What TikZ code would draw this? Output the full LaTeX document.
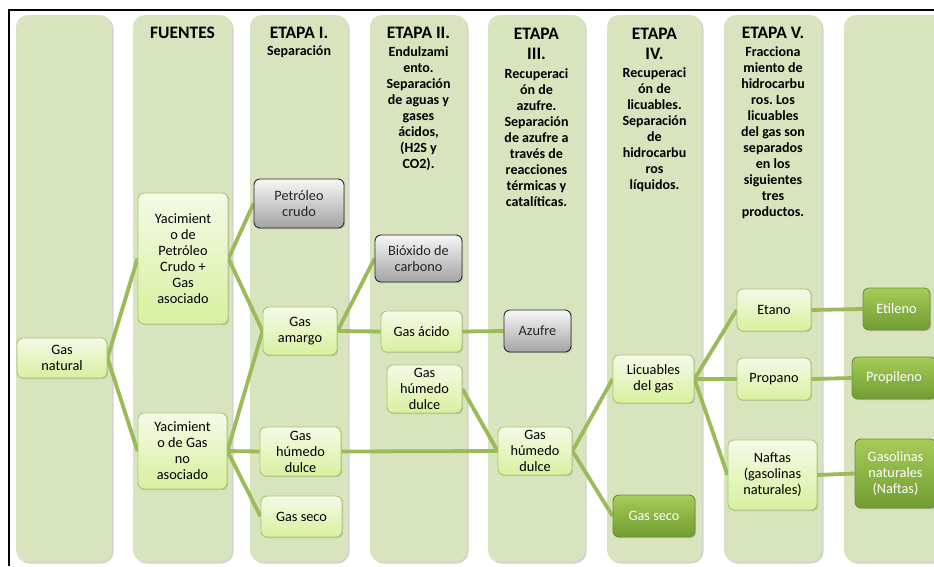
\documentclass[tikz,border=0pt]{standalone}
\usepackage{fontspec}
\setmainfont{Carlito}
\frenchspacing
\usetikzlibrary{shadows}
\definecolor{colbg}{HTML}{D7E4BD}
\definecolor{litetop}{HTML}{F4FAE8}
\definecolor{litebot}{HTML}{D8F09E}
\definecolor{litedraw}{HTML}{A9C86E}
\definecolor{darktop}{HTML}{A6CC58}
\definecolor{darkbot}{HTML}{719C31}
\definecolor{darkdraw}{HTML}{6E8F35}
\definecolor{graytop}{HTML}{F7F7F7}
\definecolor{graybot}{HTML}{A3A3A3}
\definecolor{graydraw}{HTML}{2A2A2A}
\definecolor{linkc}{HTML}{9BBB59}
\pgfdeclarelayer{cols}
\pgfdeclarelayer{links}
\pgfsetlayers{cols,links,main}
\begin{document}
\begin{tikzpicture}[x=1pt,y=-1pt,
  colbox/.style={fill=colbg, rounded corners=12pt,
     drop shadow={shadow xshift=1.5pt, shadow yshift=-1.5pt, opacity=0.35, fill=gray}},
  boxbase/.style={rounded corners=6pt, inner sep=0pt, align=center,
     font=\fontsize{14.3}{16}\selectfont, line width=0.9pt,
     drop shadow={shadow xshift=1.2pt, shadow yshift=-1.2pt, opacity=0.3, fill=gray}},
  lite/.style={boxbase, draw=litedraw, top color=litetop, bottom color=litebot, text=black},
  grey/.style={boxbase, draw=graydraw, top color=graytop, bottom color=graybot, text=black!85},
  dark/.style={boxbase, draw=darkdraw, top color=darktop, bottom color=darkbot, text=white},
  ttl/.style={align=center, inner sep=0pt, font=\fontsize{17.5}{20}\selectfont\bfseries},
  dsc/.style={align=center, inner sep=0pt, font=\fontsize{14}{16}\selectfont\bfseries},
  link/.style={draw=linkc, line width=3.8pt}
]
\useasboundingbox (0,0) rectangle (934,566);

\begin{pgfonlayer}{cols}
\fill[white] (0,0) rectangle (934,566);
\draw[line width=2pt] (9,566) -- (9,10) -- (940,10);
\path[colbox] (16,15) rectangle (112,562);
\path[colbox] (133,15) rectangle (232,562);
\path[colbox] (250,15) rectangle (348,562);
\path[colbox] (370,15) rectangle (467,562);
\path[colbox] (488,15) rectangle (585,562);
\path[colbox] (607,15) rectangle (702,562);
\path[colbox] (724,15) rectangle (822,562);
\path[colbox] (844,15) rectangle (945,562);
\end{pgfonlayer}

% headers
\node[ttl] (h2) at (182.5,33) {FUENTES};
\node[ttl] (h3) at (299,33) {ETAPA I.};
\node[dsc] (d3) at (299,52) {Separación};
\node[ttl] (h4) at (418.5,33) {ETAPA II.};
\node[dsc] (d4) at (418.5,109) {Endulzami\\ento.\\Separación\\de aguas y\\gases\\ácidos,\\(H2S y\\CO2).};
\node[ttl] (h5) at (536.5,44) {ETAPA\\III.};
\node[dsc] (d5) at (536.5,138) {Recuperaci\\ón de\\azufre.\\Separación\\de azufre a\\través de\\reacciones\\térmicas y\\catalíticas.};
\node[ttl] (h6) at (654.5,44) {ETAPA\\IV.};
\node[dsc] (d6) at (654.5,130) {Recuperaci\\ón de\\licuables.\\Separación\\de\\hidrocarbu\\ros\\líquidos.};
\node[ttl] (h7) at (773,33) {ETAPA V.};
\node[dsc] (d7) at (773,133) {Fracciona\\miento de\\hidrocarbu\\ros. Los\\licuables\\del gas son\\separados\\en los\\siguientes\\tres\\productos.};

% nodes
\node[lite, minimum width=90pt, minimum height=40pt] (gn) at (62,358) {Gas\\natural};
\node[lite, minimum width=90pt, minimum height=131pt] (yac1) at (183,258.5) {Yacimient\\o de\\Petróleo\\Crudo +\\Gas\\asociado};
\node[lite, minimum width=89pt, minimum height=76pt] (yac2) at (182.5,451) {Yacimient\\o de Gas\\no\\asociado};
\node[grey, minimum width=90pt, minimum height=49pt] (pet) at (299,203.5) {Petróleo\\crudo};
\node[lite, minimum width=74pt, minimum height=48pt] (gam) at (300,331) {Gas\\amargo};
\node[lite, minimum width=81pt, minimum height=49pt] (ghd3) at (300.5,451.5) {Gas\\húmedo\\dulce};
\node[lite, minimum width=81pt, minimum height=41pt] (gs3) at (301.5,516.5) {Gas seco};
\node[grey, minimum width=87pt, minimum height=47pt] (bio) at (418.5,258.5) {Bióxido de\\carbono};
\node[lite, minimum width=81pt, minimum height=41pt] (gac) at (421.5,331.5) {Gas ácido};
\node[lite, minimum width=75pt, minimum height=48pt] (ghd4) at (424.5,389) {Gas\\húmedo\\dulce};
\node[grey, minimum width=67pt, minimum height=42pt] (azu) at (537.5,331) {Azufre};
\node[lite, minimum width=74pt, minimum height=48pt] (ghd5) at (535,451) {Gas\\húmedo\\dulce};
\node[lite, minimum width=81pt, minimum height=48pt] (lic) at (653.5,379) {Licuables\\del gas};
\node[dark, minimum width=82pt, minimum height=42pt] (gs6) at (654,516) {Gas seco};
\node[lite, minimum width=74pt, minimum height=42pt] (eta) at (774,310) {Etano};
\node[lite, minimum width=74pt, minimum height=42pt] (pro) at (774,379) {Propano};
\node[lite, minimum width=89pt, minimum height=70pt] (naf) at (772.5,475) {Naftas\\(gasolinas\\naturales)};
\node[dark, minimum width=67pt, minimum height=42pt] (etil) at (896.5,309) {Etileno};
\node[dark, minimum width=84pt, minimum height=42pt] (prop) at (894,378) {Propileno};
\node[dark, minimum width=81pt, minimum height=69pt] (gsn) at (895.5,473.5) {Gasolinas\\naturales\\(Naftas)};

\begin{pgfonlayer}{links}
\path[link] (gn.east) -- (yac1.west);
\path[link] (gn.east) -- (yac2.west);
\path[link] (yac1.east) -- (pet.west);
\path[link] (yac1.east) -- (gam.west);
\path[link] (yac2.east) -- (gam.west);
\path[link] (yac2.east) -- (ghd3.west);
\path[link] (yac2.east) -- (gs3.west);
\path[link] (gam.east) -- (bio.west);
\path[link] (gam.east) -- (gac.west);
\path[link] (gac.east) -- (azu.west);
\path[link] (ghd3.east) -- (ghd5.west);
\path[link] (ghd4.east) -- (ghd5.west);
\path[link] (ghd5.east) -- (lic.west);
\path[link] (ghd5.east) -- (gs6.west);
\path[link] (lic.east) -- (eta.west);
\path[link] (lic.east) -- (pro.west);
\path[link] (lic.east) -- (naf.west);
\path[link] (eta.east) -- (etil.west);
\path[link] (pro.east) -- (prop.west);
\path[link] (naf.east) -- (gsn.west);
\end{pgfonlayer}
\end{tikzpicture}
\end{document}
